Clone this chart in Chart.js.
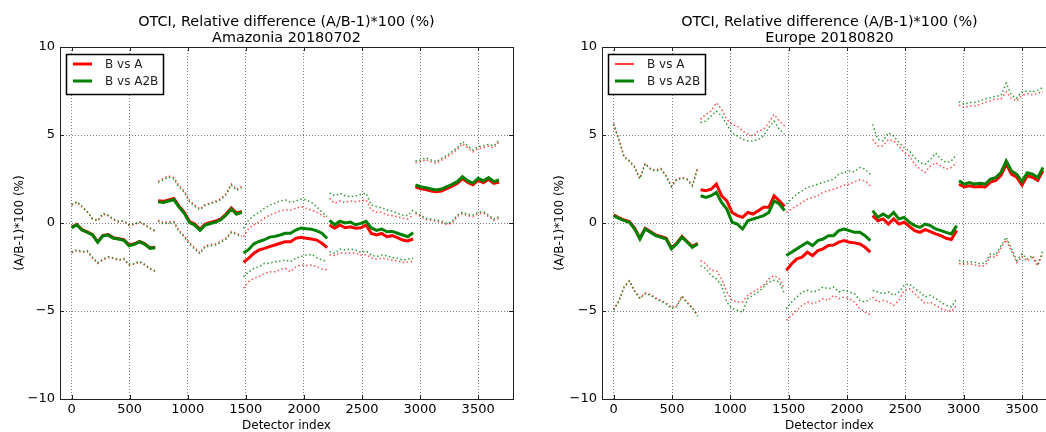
<!DOCTYPE html>
<html>
<head>
<meta charset="utf-8">
<script src="https://cdn.jsdelivr.net/npm/chart.js@4.4.0/dist/chart.umd.min.js"></script>
<style>
  body { margin: 0; background: #fff; overflow: hidden; width: 1046px; height: 432px; position: relative; }
  .painel { position: absolute; top: 0; }
</style>
</head>
<body>
<div class="painel" style="left:0"><canvas id="graficoAmazonia" width="523" height="432"></canvas></div>
<div class="painel" style="left:523px"><canvas id="graficoEuropa" width="560" height="432"></canvas></div>
<script>
// indice do detector, 5 cameras com 17 pontos cada
var PONTOS_SEG = 17;
var detIdx = [
  0, 45, 90, 135, 180, 225, 270, 315, 360, 405, 450, 495, 540, 585, 630, 675, 720,
  745, 790, 835, 880, 925, 970, 1015, 1060, 1105, 1150, 1195, 1240, 1285, 1330, 1375, 1420, 1465,
  1480, 1525, 1570, 1615, 1660, 1705, 1750, 1795, 1840, 1885, 1930, 1975, 2020, 2065, 2110, 2155, 2200,
  2220, 2265, 2310, 2355, 2400, 2445, 2490, 2535, 2580, 2625, 2670, 2715, 2760, 2805, 2850, 2895, 2940,
  2960, 3005, 3050, 3095, 3140, 3185, 3230, 3275, 3320, 3365, 3410, 3455, 3500, 3545, 3590, 3635, 3680
];
var ticksX = [0, 500, 1000, 1500, 2000, 2500, 3000, 3500];
var ticksY = [-10, -5, 0, 5, 10];

// Amazonia 20180702
var amzA = [
  -0.25, -0.08, -0.38, -0.50, -0.66, -1.07, -0.70, -0.66, -0.84, -0.89, -0.95, -1.26, -1.18, -1.04, -1.18, -1.41, -1.37,
  1.26, 1.23, 1.31, 1.39, 0.96, 0.61, 0.08, -0.06, -0.36, -0.06, 0.03, 0.11, 0.24, 0.51, 0.86, 0.56, 0.66,
  -2.23, -2.00, -1.72, -1.53, -1.44, -1.34, -1.25, -1.15, -1.06, -1.06, -0.87, -0.81, -0.87, -0.91, -0.97, -1.15, -1.40,
  -0.11, -0.30, -0.11, -0.27, -0.21, -0.30, -0.27, -0.11, -0.59, -0.68, -0.59, -0.78, -0.72, -0.83, -0.97, -1.02, -0.91,
  2.05, 1.95, 1.90, 1.82, 1.78, 1.82, 1.95, 2.10, 2.25, 2.52, 2.30, 2.17, 2.43, 2.28, 2.48, 2.25, 2.33
];
var amzA2B = [
  -0.27, -0.11, -0.40, -0.53, -0.68, -1.10, -0.72, -0.68, -0.87, -0.91, -0.98, -1.29, -1.21, -1.06, -1.21, -1.44, -1.40,
  1.20, 1.17, 1.25, 1.33, 0.90, 0.55, 0.02, -0.12, -0.42, -0.12, -0.03, 0.05, 0.18, 0.45, 0.80, 0.50, 0.60,
  -1.70, -1.50, -1.18, -1.05, -0.95, -0.80, -0.76, -0.68, -0.58, -0.58, -0.40, -0.28, -0.33, -0.35, -0.45, -0.58, -0.88,
  0.15, -0.10, 0.10, 0.00, 0.05, -0.10, -0.02, 0.10, -0.28, -0.42, -0.34, -0.50, -0.48, -0.58, -0.68, -0.78, -0.55,
  2.16, 2.06, 2.01, 1.93, 1.88, 1.93, 2.06, 2.20, 2.35, 2.63, 2.39, 2.27, 2.54, 2.39, 2.58, 2.35, 2.44
];
var amzAHi = [
  1.00, 1.18, 0.90, 0.62, 0.22, 0.12, 0.50, 0.42, 0.18, 0.06, 0.10, -0.14, -0.08, 0.04, -0.12, -0.32, -0.48,
  2.38, 2.55, 2.68, 2.58, 2.12, 1.82, 1.28, 1.02, 0.80, 1.05, 1.15, 1.25, 1.40, 1.68, 2.22, 1.92, 2.08,
  -0.78, -0.30, -0.11, 0.08, 0.27, 0.45, 0.55, 0.68, 0.74, 0.74, 0.83, 0.93, 0.83, 0.74, 0.61, 0.45, 0.27,
  1.40, 1.12, 1.25, 1.17, 1.25, 1.21, 1.25, 1.31, 0.74, 0.61, 0.61, 0.45, 0.42, 0.36, 0.27, 0.23, 0.45,
  3.42, 3.48, 3.60, 3.48, 3.38, 3.57, 3.72, 3.95, 4.18, 4.50, 4.28, 4.05, 4.24, 4.28, 4.36, 4.28, 4.60
];
var amzALo = [
  -1.70, -1.58, -1.66, -1.62, -2.00, -2.30, -2.10, -1.96, -2.02, -2.12, -2.06, -2.40, -2.34, -2.22, -2.40, -2.62, -2.75,
  0.18, 0.02, 0.07, 0.10, -0.42, -0.72, -1.12, -1.40, -1.68, -1.28, -1.22, -1.18, -1.02, -0.85, -0.48, -0.58, -0.72,
  -3.71, -3.33, -3.14, -3.05, -2.86, -2.77, -2.77, -2.67, -2.58, -2.77, -2.48, -2.39, -2.42, -2.39, -2.48, -2.61, -2.67,
  -1.80, -1.85, -1.70, -1.72, -1.70, -1.70, -1.82, -1.80, -1.98, -2.05, -2.00, -2.05, -2.12, -2.15, -2.25, -2.22, -2.18,
  0.53, 0.37, 0.19, 0.15, 0.09, 0.03, -0.10, 0.00, 0.37, 0.53, 0.41, 0.37, 0.53, 0.56, 0.37, 0.15, 0.28
];
var amzA2BHi = [
  1.05, 1.22, 0.95, 0.65, 0.25, 0.15, 0.55, 0.45, 0.22, 0.10, 0.12, -0.10, -0.05, 0.08, -0.08, -0.28, -0.45,
  2.30, 2.45, 2.60, 2.50, 2.05, 1.75, 1.20, 0.95, 0.75, 1.00, 1.10, 1.18, 1.32, 1.60, 2.15, 1.85, 2.00,
  -0.30, 0.17, 0.42, 0.61, 0.83, 1.02, 1.12, 1.25, 1.31, 1.17, 1.25, 1.36, 1.31, 1.17, 0.93, 0.61, 0.36,
  1.69, 1.55, 1.69, 1.55, 1.50, 1.53, 1.63, 1.69, 1.02, 0.93, 0.87, 0.74, 0.68, 0.55, 0.45, 0.42, 0.74,
  3.52, 3.58, 3.71, 3.58, 3.48, 3.67, 3.83, 4.05, 4.28, 4.62, 4.39, 4.15, 4.34, 4.39, 4.47, 4.39, 4.72
];
var amzA2BLo = [
  -1.65, -1.52, -1.62, -1.58, -1.95, -2.25, -2.05, -1.92, -1.97, -2.08, -2.02, -2.35, -2.30, -2.18, -2.35, -2.58, -2.72,
  0.10, -0.05, 0.00, 0.03, -0.50, -0.80, -1.20, -1.48, -1.75, -1.35, -1.30, -1.25, -1.10, -0.92, -0.55, -0.65, -0.80,
  -3.05, -2.77, -2.58, -2.48, -2.29, -2.29, -2.20, -2.16, -2.10, -2.20, -2.00, -1.91, -1.82, -1.78, -1.97, -2.10, -2.20,
  -1.63, -1.72, -1.48, -1.53, -1.48, -1.53, -1.67, -1.59, -1.82, -1.91, -1.82, -1.86, -1.97, -2.00, -2.10, -2.05, -2.00,
  0.61, 0.45, 0.27, 0.23, 0.17, 0.11, -0.02, 0.08, 0.45, 0.61, 0.49, 0.45, 0.61, 0.64, 0.45, 0.23, 0.36
];

// Europe 20180820
var eurA = [
  0.46, 0.30, 0.17, 0.08, -0.30, -0.86, -0.30, -0.49, -0.68, -0.77, -0.87, -1.42, -1.15, -0.77, -1.05, -1.34, -1.15,
  1.89, 1.83, 1.92, 2.21, 1.55, 1.26, 0.60, 0.42, 0.32, 0.60, 0.51, 0.70, 0.89, 0.89, 1.55, 1.26, 0.94,
  -2.70, -2.32, -2.04, -1.94, -1.66, -1.85, -1.57, -1.47, -1.28, -1.25, -1.09, -1.00, -1.09, -1.13, -1.19, -1.38, -1.66,
  0.42, 0.13, 0.23, -0.06, 0.23, -0.06, 0.04, -0.19, -0.43, -0.53, -0.38, -0.49, -0.62, -0.72, -0.87, -0.94, -0.43,
  2.20, 2.05, 2.12, 2.05, 2.08, 2.05, 2.32, 2.42, 2.70, 3.35, 2.78, 2.60, 2.15, 2.68, 2.60, 2.42, 2.98
];
var eurA2B = [
  0.42, 0.26, 0.13, 0.04, -0.34, -0.91, -0.34, -0.53, -0.72, -0.81, -0.91, -1.47, -1.19, -0.81, -1.09, -1.38, -1.19,
  1.55, 1.45, 1.55, 1.74, 1.17, 0.79, 0.04, -0.06, -0.34, 0.13, 0.23, 0.32, 0.42, 0.60, 1.26, 1.08, 0.70,
  -1.85, -1.66, -1.47, -1.28, -1.09, -1.28, -1.00, -0.91, -0.72, -0.72, -0.43, -0.34, -0.43, -0.53, -0.53, -0.72, -1.00,
  0.70, 0.32, 0.51, 0.32, 0.60, 0.23, 0.32, 0.04, -0.15, -0.25, -0.06, -0.15, -0.34, -0.43, -0.53, -0.62, -0.15,
  2.40, 2.21, 2.30, 2.21, 2.26, 2.21, 2.49, 2.58, 2.87, 3.53, 2.96, 2.77, 2.35, 2.85, 2.77, 2.58, 3.15
];
var eurAHi = [
  5.65, 4.75, 3.78, 3.55, 3.20, 2.55, 3.40, 3.10, 3.00, 3.10, 2.70, 2.10, 2.50, 2.60, 2.50, 2.15, 3.15,
  5.89, 6.17, 6.36, 6.83, 6.45, 5.89, 5.60, 5.51, 5.23, 5.04, 4.94, 5.23, 5.32, 5.70, 6.17, 5.79, 5.51,
  0.60, 0.79, 0.98, 1.17, 1.36, 1.45, 1.55, 1.74, 1.83, 1.92, 2.02, 2.15, 2.21, 2.34, 2.45, 2.40, 2.11,
  4.75, 4.38, 4.38, 4.75, 4.66, 4.38, 4.00, 3.81, 3.34, 3.06, 2.87, 3.25, 3.43, 3.25, 3.06, 3.15, 3.43,
  6.70, 6.55, 6.65, 6.65, 6.75, 6.85, 6.95, 7.05, 7.05, 7.45, 7.05, 6.95, 7.25, 7.35, 7.28, 7.38, 7.45
];
var eurALo = [
  -4.90, -4.40, -3.60, -3.28, -3.85, -4.25, -3.98, -4.05, -4.25, -4.40, -4.55, -4.80, -4.70, -4.15, -4.50, -4.80, -5.25,
  -2.13, -2.32, -2.70, -2.70, -3.17, -3.92, -4.40, -4.49, -4.49, -4.11, -3.92, -3.74, -3.55, -3.17, -2.98, -3.17, -3.74,
  -5.53, -5.25, -4.96, -4.68, -4.49, -4.58, -4.49, -4.30, -4.40, -4.11, -4.30, -4.21, -4.30, -4.49, -4.87, -5.06, -5.21,
  -4.21, -4.49, -4.40, -4.49, -4.68, -4.40, -3.83, -3.74, -4.02, -4.30, -4.58, -4.49, -4.68, -4.87, -4.96, -5.02, -4.68,
  -2.30, -2.35, -2.32, -2.38, -2.45, -2.42, -1.90, -1.95, -1.42, -0.95, -1.60, -2.25, -1.90, -2.15, -1.98, -2.42, -1.70
];
var eurA2BHi = [
  5.60, 4.70, 3.72, 3.50, 3.15, 2.50, 3.35, 3.05, 2.95, 3.05, 2.65, 2.05, 2.45, 2.55, 2.45, 2.10, 3.10,
  5.70, 5.79, 6.08, 6.36, 6.08, 5.60, 5.13, 4.94, 4.75, 4.66, 4.66, 4.75, 4.94, 5.42, 5.79, 5.32, 5.04,
  1.08, 1.36, 1.64, 1.83, 2.02, 2.11, 2.21, 2.30, 2.40, 2.49, 2.77, 2.87, 2.96, 2.91, 3.15, 3.06, 2.77,
  5.60, 4.75, 4.66, 5.13, 4.94, 4.57, 4.28, 4.09, 3.72, 3.43, 3.34, 3.62, 3.98, 3.62, 3.43, 3.53, 3.91,
  6.90, 6.75, 6.85, 6.85, 6.95, 7.05, 7.12, 7.20, 7.25, 7.95, 7.25, 7.10, 7.45, 7.50, 7.45, 7.55, 7.70
];
var eurA2BLo = [
  -4.95, -4.45, -3.65, -3.30, -3.90, -4.30, -4.02, -4.10, -4.30, -4.45, -4.60, -4.85, -4.75, -4.20, -4.55, -4.85, -5.30,
  -2.42, -2.60, -2.98, -3.17, -3.55, -4.49, -4.87, -4.96, -5.06, -4.30, -4.11, -3.92, -3.64, -3.36, -3.26, -3.36, -4.02,
  -4.87, -4.49, -4.21, -3.92, -3.83, -3.92, -3.83, -3.64, -3.74, -3.64, -3.92, -3.83, -3.92, -4.02, -4.40, -4.49, -4.30,
  -3.83, -3.92, -4.02, -3.92, -4.11, -3.92, -3.55, -3.45, -3.74, -3.92, -4.21, -4.11, -4.30, -4.49, -4.68, -4.77, -4.30,
  -2.13, -2.23, -2.19, -2.23, -2.32, -2.26, -1.75, -1.81, -1.28, -0.81, -1.47, -2.13, -1.75, -2.04, -1.85, -2.32, -1.57
];

var VERMELHO = '#ff0000';
var VERDE = '#008000';

Chart.defaults.font.family = '"DejaVu Sans", sans-serif';
Chart.defaults.color = '#000';

// quebra a linha entre as cameras com um ponto nulo
function pontos(valores) {
  var lista = [];
  for (var i = 0; i < detIdx.length; i++) {
    if (i > 0 && i % PONTOS_SEG == 0) {
      lista.push({ x: detIdx[i] - 8, y: null });
    }
    lista.push({ x: detIdx[i], y: valores[i] });
  }
  return lista;
}

function serie(valores, cor, largura, pontilhado, ordem) {
  return {
    data: pontos(valores),
    borderColor: cor,
    borderWidth: largura,
    borderDash: pontilhado ? [1.5, 2.5] : [],
    pointRadius: 0,
    tension: 0,
    spanGaps: false,
    order: ordem
  };
}

// moldura, tracinhos internos e legenda no estilo matplotlib
var moldura = {
  id: 'moldura',
  afterDraw: function (chart, args, opcoes) {
    var ctx = chart.ctx;
    var area = chart.chartArea;
    var sx = chart.scales.x;
    var sy = chart.scales.y;
    ctx.save();
    ctx.strokeStyle = '#222';
    ctx.lineWidth = 1;
    ctx.setLineDash([]);
    ctx.beginPath();
    ticksX.forEach(function (v) {
      var px = Math.round(sx.getPixelForValue(v)) + 0.5;
      ctx.moveTo(px, area.bottom); ctx.lineTo(px, area.bottom - 4);
      ctx.moveTo(px, area.top); ctx.lineTo(px, area.top + 4);
    });
    ticksY.forEach(function (v) {
      var py = Math.round(sy.getPixelForValue(v)) + 0.5;
      ctx.moveTo(area.left, py); ctx.lineTo(area.left + 4, py);
      ctx.moveTo(area.right, py); ctx.lineTo(area.right - 4, py);
    });
    ctx.stroke();
    ctx.strokeRect(Math.round(area.left) + 0.5, Math.round(area.top) + 0.5,
      Math.round(area.right - area.left), Math.round(area.bottom - area.top));

    // legenda
    var lx = area.left + 6;
    var ly = area.top + 7;
    ctx.fillStyle = '#fff';
    ctx.fillRect(lx, ly, 97, 40);
    ctx.strokeStyle = '#000';
    ctx.lineWidth = 1.5;
    ctx.strokeRect(lx + 0.5, ly + 0.5, 97, 40);
    ctx.font = '12px "DejaVu Sans"';
    ctx.textBaseline = 'middle';
    opcoes.itens.forEach(function (item, i) {
      var yy = ly + 10 + i * 17;
      ctx.strokeStyle = item.cor;
      ctx.lineWidth = item.largura;
      ctx.beginPath();
      ctx.moveTo(lx + 7, yy); ctx.lineTo(lx + 26, yy);
      ctx.stroke();
      ctx.fillStyle = '#222';
      ctx.fillText(item.texto, lx + 39, yy + 1);
    });
    ctx.restore();
  }
};

function gerar(idCanvas, titulo, dados, itensLegenda, margem) {
  var config = {
    type: 'line',
    data: {
      datasets: [
        serie(dados.a2b, VERDE, 3, false, 0),
        serie(dados.a, VERMELHO, 3, false, 1),
        serie(dados.a2bHi, 'rgba(0,128,0,0.8)', 1.5, true, 2),
        serie(dados.a2bLo, 'rgba(0,128,0,0.8)', 1.5, true, 2),
        serie(dados.aHi, 'rgba(255,0,0,0.7)', 1.5, true, 3),
        serie(dados.aLo, 'rgba(255,0,0,0.7)', 1.5, true, 3)
      ]
    },
    options: {
      responsive: false,
      animation: false,
      layout: { padding: { left: margem.esq, right: margem.dir, top: 0, bottom: 0 } },
      plugins: {
        legend: { display: false },
        tooltip: { enabled: false },
        title: {
          display: true,
          fullSize: false,
          text: titulo,
          color: '#000',
          font: { size: 14.4, weight: 'normal', lineHeight: '16px' },
          padding: { top: 14, bottom: 1 }
        },
        moldura: { itens: itensLegenda }
      },
      scales: {
        x: {
          type: 'linear',
          min: -100,
          max: 3800,
          afterBuildTicks: function (escala) {
            escala.ticks = ticksX.map(function (v) { return { value: v }; });
          },
          afterFit: function (escala) { escala.height = 33; },
          ticks: {
            font: { size: 13 }, padding: 3, maxRotation: 0, autoSkip: false,
            callback: function (v) { return String(v); }
          },
          grid: { color: 'rgba(0,0,0,0.65)', lineWidth: 0.8, drawTicks: false },
          border: { display: false, dash: [1, 2] },
          title: { display: true, text: 'Detector index', font: { size: 12, lineHeight: 1 }, padding: 0 }
        },
        y: {
          min: -10,
          max: 10,
          afterBuildTicks: function (escala) {
            escala.ticks = ticksY.map(function (v) { return { value: v }; });
          },
          afterFit: function (escala) { escala.width = margem.eixoY; },
          ticks: {
            font: { size: 13 },
            padding: 5,
            callback: function (v) { return v < 0 ? '\u2212' + Math.abs(v) : String(v); }
          },
          grid: {
            color: function (c) { return (c.tick && (c.tick.value == 10 || c.tick.value == -10)) ? 'rgba(0,0,0,0)' : 'rgba(0,0,0,0.65)'; },
            lineWidth: 0.8, drawTicks: false
          },
          border: { display: false, dash: [1, 2] },
          title: { display: true, text: '(A/B-1)*100 (%)', font: { size: 12, lineHeight: 1 }, padding: 0 }
        }
      }
    },
    plugins: [moldura]
  };
  return new Chart(document.getElementById(idCanvas), config);
}

gerar('graficoAmazonia',
  ['OTCI, Relative difference (A/B-1)*100 (%)', 'Amazonia 20180702'],
  { a: amzA, a2b: amzA2B, aHi: amzAHi, aLo: amzALo, a2bHi: amzA2BHi, a2bLo: amzA2BLo },
  [{ texto: 'B vs A', cor: VERMELHO, largura: 3 }, { texto: 'B vs A2B', cor: VERDE, largura: 3 }],
  { esq: 14, dir: 10, eixoY: 46 });

gerar('graficoEuropa',
  ['OTCI, Relative difference (A/B-1)*100 (%)', 'Europe 20180820'],
  { a: eurA, a2b: eurA2B, aHi: eurAHi, aLo: eurALo, a2bHi: eurA2BHi, a2bLo: eurA2BLo },
  [{ texto: 'B vs A', cor: VERMELHO, largura: 1.5 }, { texto: 'B vs A2B', cor: VERDE, largura: 3 }],
  { esq: 31, dir: 26, eixoY: 48 });
</script>
</body>
</html>
